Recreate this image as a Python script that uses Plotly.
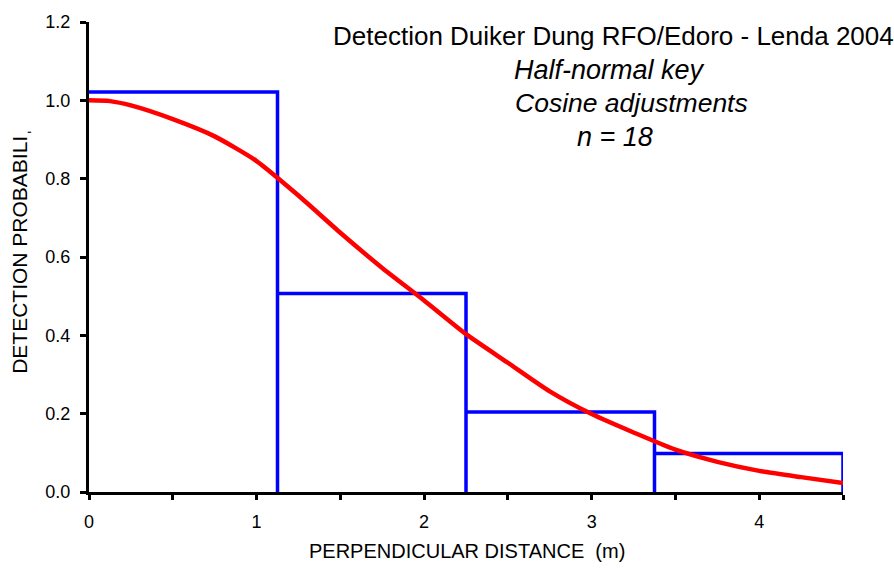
import plotly.graph_objects as go

# Histogram (scaled detection frequencies)
bin_edges = [0.0, 1.125, 2.25, 3.375, 4.5]
bar_heights = [1.021, 0.507, 0.204, 0.098]

# Fitted detection function (half-normal key, cosine adjustments)
curve_x = [0.0, 0.125, 0.25, 0.5, 0.75, 1.0, 1.25, 1.5, 1.75, 2.0, 2.25, 2.5,
           2.75, 3.0, 3.25, 3.5, 3.75, 4.0, 4.25, 4.5]
curve_y = [1.000, 0.998, 0.987, 0.952, 0.908, 0.845, 0.757, 0.662, 0.572, 0.489,
           0.403, 0.330, 0.257, 0.199, 0.152, 0.108, 0.077, 0.054, 0.038, 0.023]

x_tickvals = [0, 0.5, 1, 1.5, 2, 2.5, 3, 3.5, 4, 4.5]
x_ticktext = ["0", "", "1", "", "2", "", "3", "", "4", ""]
y_tickvals = [0.0, 0.2, 0.4, 0.6, 0.8, 1.0, 1.2]
y_ticktext = ["0.0", "0.2", "0.4", "0.6", "0.8", "1.0", "1.2"]

title_lines = ["Detection Duiker Dung RFO/Edoro - Lenda 2004",
               "<i>Half-normal key</i>",
               "<i>Cosine adjustments</i>",
               "<i>n = 18</i>"]

FONT = "Liberation Sans, Arial, sans-serif"

# Build the outline of the histogram bars (no bottom edges, like the original)
hist_x, hist_y = [], []
for i, h in enumerate(bar_heights):
    left, right = bin_edges[i], bin_edges[i + 1]
    if i > 0:
        hist_x.append(left)
        hist_y.append(0)
    hist_x += [left, right, right]
    hist_y += [h, h, 0]

fig = go.Figure()
fig.add_trace(go.Scatter(
    x=hist_x, y=hist_y, mode="lines",
    line=dict(color="#0000FF", width=3.5),
    cliponaxis=False, showlegend=False, hoverinfo="skip",
))
fig.add_trace(go.Scatter(
    x=curve_x, y=curve_y, mode="lines",
    line=dict(color="#FF0000", width=4.5, shape="spline", smoothing=0.6),
    showlegend=False,
))

fig.update_layout(
    width=894, height=569,
    margin=dict(l=89, r=51, t=16, b=77),
    plot_bgcolor="white", paper_bgcolor="white",
    font=dict(family=FONT, color="black", size=18),
)
fig.update_xaxes(
    range=[0, 4.5], showgrid=False, zeroline=False,
    showline=True, linecolor="black", linewidth=3,
    tickmode="array", tickvals=x_tickvals, ticktext=x_ticktext,
    ticks="outside", ticklen=5, tickwidth=3, tickcolor="black",
    tickfont=dict(size=18), ticklabelstandoff=6,
)
fig.update_yaxes(
    range=[0, 1.2], showgrid=False, zeroline=False,
    showline=True, linecolor="black", linewidth=3,
    tickmode="array", tickvals=y_tickvals, ticktext=y_ticktext,
    ticks="outside", ticklen=6, tickwidth=3, tickcolor="black",
    tickfont=dict(size=18), ticklabelstandoff=6,
)

title_pos = [(0.695, 0.971, 26), (0.690, 0.897, 27), (0.719, 0.827, 26.5), (0.698, 0.756, 27)]
for txt, (px, py, fs) in zip(title_lines, title_pos):
    fig.add_annotation(text=txt, xref="paper", yref="paper", x=px, y=py,
                       xanchor="center", yanchor="middle", showarrow=False,
                       font=dict(size=fs, family=FONT))

fig.add_annotation(text="PERPENDICULAR DISTANCE  (m)", xref="paper", yref="paper",
                   x=0.501, y=-0.126, xanchor="center", yanchor="middle",
                   showarrow=False, font=dict(size=20, family=FONT))
fig.add_annotation(text="DETECTION PROBABILIˌ", xref="paper", yref="paper",
                   x=-0.0915, y=0.511, xanchor="center", yanchor="middle",
                   textangle=-90, showarrow=False, font=dict(size=21, family=FONT))

fig.write_html("out.html")
